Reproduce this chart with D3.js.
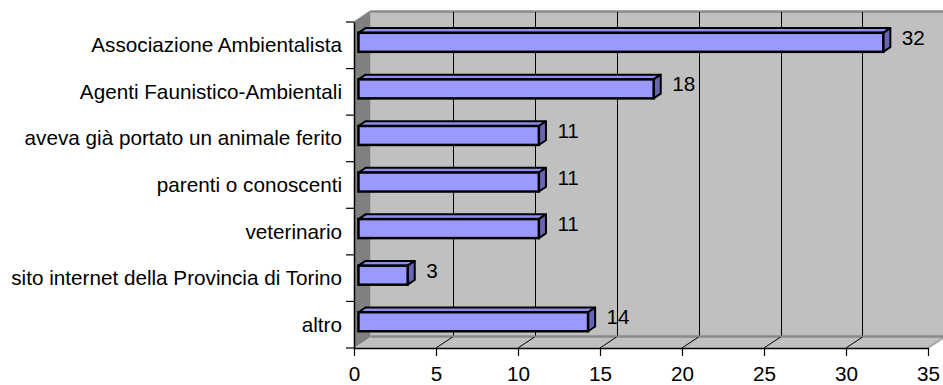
<!DOCTYPE html>
<html>
<head>
<meta charset="utf-8">
<script src="https://cdn.jsdelivr.net/npm/d3@7"></script>
<style>
  html, body { margin: 0; padding: 0; background: #fff; }
  svg { display: block; }
  text { font-family: "Liberation Sans", Arial, sans-serif; font-size: 20.7px; fill: #000; }
</style>
</head>
<body>
<svg id="chart" width="943" height="385"></svg>
<script>
// Categories (top to bottom) and their counts
const categories = [
  "Associazione Ambientalista",
  "Agenti Faunistico-Ambientali",
  "aveva già portato un animale ferito",
  "parenti o conoscenti",
  "veterinario",
  "sito internet della Provincia di Torino",
  "altro"
];
const values = [32, 18, 11, 11, 11, 3, 14];
const xTicks = [0, 5, 10, 15, 20, 25, 30, 35];

const svg = d3.select("#chart");

// Front plane scales
const x = d3.scaleLinear().domain([0, 35]).range([354, 928]);
const y = d3.scaleBand().domain(categories).range([22, 348]).paddingInner(0).paddingOuter(0);

// Oblique depth of the 3D box
const depthX = 16.5, depthY = -11;
const x0 = x(0), x1 = x(35);
const yTop = y.range()[0], yBot = y.range()[1];

// Back wall
svg.append("rect")
  .attr("x", x0 + depthX).attr("y", yTop + depthY)
  .attr("width", x1 - x0).attr("height", yBot - yTop)
  .attr("fill", "#c0c0c0");

// Floor
svg.append("path")
  .attr("d", `M${x0},${yBot} L${x0 + depthX},${yBot + depthY} L${x1 + depthX},${yBot + depthY} L${x1},${yBot} Z`)
  .attr("fill", "#c0c0c0");
svg.append("line")
  .attr("x1", x1).attr("y1", yBot).attr("x2", x1 + depthX).attr("y2", yBot + depthY)
  .attr("stroke", "#a8a8a8").attr("stroke-width", 2);

// Left wall
svg.append("path")
  .attr("d", `M${x0},${yTop} L${x0 + depthX},${yTop + depthY} L${x0 + depthX},${yBot + depthY} L${x0},${yBot} Z`)
  .attr("fill", "#808080");

// Wall edges
svg.append("line")
  .attr("x1", x0 + depthX).attr("y1", yTop + depthY + 0.5)
  .attr("x2", x1 + depthX).attr("y2", yTop + depthY + 0.5)
  .attr("stroke", "#8a8a8a").attr("stroke-width", 2.5);
svg.append("line")
  .attr("x1", x0 + depthX).attr("y1", yBot + depthY - 0.5)
  .attr("x2", x1 + depthX).attr("y2", yBot + depthY - 0.5)
  .attr("stroke", "#8a8a8a").attr("stroke-width", 2.5);
svg.append("line")
  .attr("x1", x0).attr("y1", yTop).attr("x2", x0 + depthX).attr("y2", yTop + depthY)
  .attr("stroke", "#8a8a8a").attr("stroke-width", 1.5);

// Gridlines on the back wall and their floor diagonals
const gridVals = xTicks.filter(v => v > 0 && v < 35);
svg.append("g").selectAll("line").data(gridVals).join("line")
  .attr("x1", d => Math.round(x(d) + depthX) + 0.5).attr("x2", d => Math.round(x(d) + depthX) + 0.5)
  .attr("y1", yTop + depthY + 1).attr("y2", yBot + depthY - 1.5)
  .attr("stroke", "#000").attr("stroke-width", 1);
svg.append("g").selectAll("line").data(gridVals).join("line")
  .attr("x1", d => x(d)).attr("y1", yBot)
  .attr("x2", d => x(d) + depthX).attr("y2", yBot + depthY)
  .attr("stroke", "#000").attr("stroke-width", 1);

// Bars as oblique boxes
const fStart = 0.27, fEnd = 0.70;          // depth fraction of bar front/back
const barH = 19;
const offX = depthX * fStart, offY = depthY * fStart;
const capX = depthX * (fEnd - fStart), capY = depthY * (fEnd - fStart);

const bars = svg.append("g").selectAll("g").data(values.map((v, i) => ({ v, c: categories[i] }))).join("g");
bars.each(function (d) {
  const g = d3.select(this);
  const cy = y(d.c) + y.bandwidth() / 2 + offY;
  const t = cy - barH / 2, b = cy + barH / 2;
  const l = x(0) + offX, r = x(d.v) + offX;
  g.append("path")
    .attr("d", `M${l},${t} L${l + capX},${t + capY} L${r + capX},${t + capY} L${r},${t} Z`)
    .attr("fill", "#8f8fef").attr("stroke", "#000").attr("stroke-width", 2).attr("stroke-linejoin", "round");
  g.append("path")
    .attr("d", `M${r},${t} L${r + capX},${t + capY} L${r + capX},${b + capY} L${r},${b} Z`)
    .attr("fill", "#6666b3").attr("stroke", "#000").attr("stroke-width", 2).attr("stroke-linejoin", "round");
  g.append("rect")
    .attr("x", l).attr("y", t).attr("width", r - l).attr("height", barH)
    .attr("fill", "#9999ff").attr("stroke", "#000").attr("stroke-width", 2.5);
  g.append("text")
    .attr("x", x(d.v) + 23).attr("y", cy + 2.5)
    .text(d.v);
});

// Bottom value axis
const xAxis = svg.append("g")
  .attr("transform", `translate(0,${yBot})`)
  .call(d3.axisBottom(x).tickValues(xTicks).tickSize(8).tickSizeOuter(0).tickPadding(10));
xAxis.select(".domain").attr("stroke", "#000").attr("stroke-width", 1.5);
xAxis.selectAll(".tick line").attr("stroke", "#000").attr("stroke-width", 1.2);
xAxis.selectAll("text").attr("font-size", null).attr("font-family", null).attr("fill", "#000");
xAxis.attr("font-size", null).attr("font-family", null);

// Left category axis: labels at band centres, ticks at band boundaries
const yAxis = svg.append("g")
  .attr("transform", `translate(${x0},0)`)
  .call(d3.axisLeft(y).tickSize(0).tickPadding(12));
yAxis.attr("font-size", null).attr("font-family", null);
yAxis.select(".domain").attr("stroke", "#000").attr("stroke-width", 1.5);
yAxis.selectAll("text").attr("fill", "#000").attr("dy", "0.34em");

const bounds = d3.range(categories.length + 1).map(k => y.range()[0] + k * y.step());
svg.append("g").selectAll("line").data(bounds).join("line")
  .attr("x1", x0 - 8).attr("x2", x0)
  .attr("y1", d => d).attr("y2", d => d)
  .attr("stroke", "#000").attr("stroke-width", 1.2);
</script>
</body>
</html>
